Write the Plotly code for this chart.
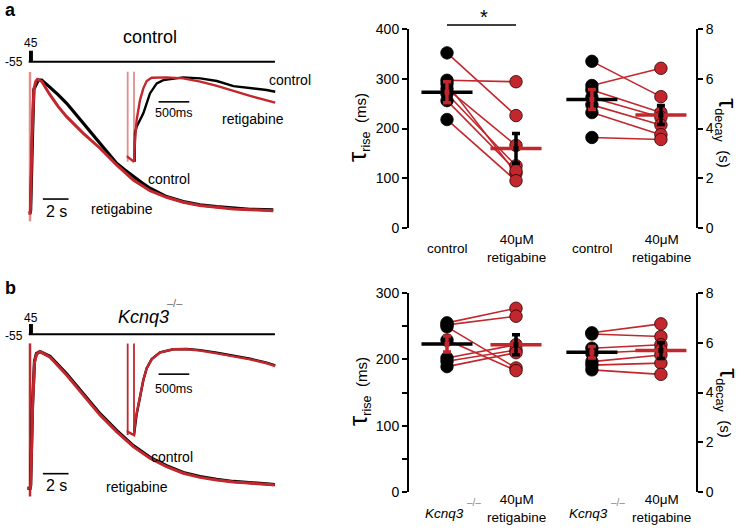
import plotly.graph_objects as go

W, H = 744, 531
RED = "#c1272d"
ART = "#e48c8c"
FONT = "Liberation Sans, Arial, sans-serif"

# ---------------- panel a : current traces (time in s, normalised current) ----------------
a_ctrl_t = [0, 0.05, 0.2, 0.3, 0.45, 0.65, 0.91, 1.04, 1.56, 2.20, 2.85, 3.50, 4.15, 4.80, 5.45, 6.09,
            6.74, 7.39, 8.04, 8.69, 9.34, 9.98, 10.63, 11.93, 13.23, 14.52, 15.82, 17.12, 18.93]
a_ctrl_i = [0, 0.02, 0.6, 0.93, 0.96, 1.0, 1.0, 0.99, 0.945, 0.888, 0.825, 0.75, 0.675, 0.60, 0.525, 0.45,
            0.375, 0.325, 0.275, 0.23, 0.188, 0.155, 0.125, 0.088, 0.063, 0.05, 0.038, 0.03, 0.025]
a_reti_t = [-0.12, 0, 0.03, 0.15, 0.3, 0.45, 0.57, 0.91, 1.56, 2.20, 2.85, 4.15, 5.45, 6.74, 8.04, 9.34,
            10.63, 11.93, 13.23, 15.82, 18.93]
a_reti_i = [0, 0, 0.02, 0.55, 0.93, 0.99, 1.005, 0.99, 0.888, 0.80, 0.725, 0.60, 0.488, 0.363, 0.25, 0.17,
            0.12, 0.083, 0.058, 0.033, 0.02]
# inset (time in s)
ai_ctrl_t = [0.01, 0.016, 0.043, 0.152, 0.26, 0.37, 0.478, 0.641, 0.80, 1.08, 1.35, 1.62, 1.89, 2.16, 2.30]
ai_ctrl_i = [0, 0.34, 0.415, 0.573, 0.81, 0.929, 0.968, 0.988, 1.0, 0.988, 0.957, 0.897, 0.877, 0.85, 0.83]
ai_reti_t = [-0.12, -0.11, 0.0, 0.016, 0.043, 0.098, 0.152, 0.207, 0.288, 0.53, 0.80, 1.08, 1.35, 1.62, 1.89, 2.30]
ai_reti_i = [0.06, 0.06, 0.0, 0.257, 0.494, 0.731, 0.87, 0.957, 0.996, 1.0, 0.988, 0.95, 0.90, 0.84, 0.78, 0.70]

# ---------------- panel b : current traces ----------------
b_t = [-0.2, 0, 0.05, 0.2, 0.35, 0.5, 0.78, 1.56, 2.85, 4.15, 5.45, 6.74, 8.04, 9.34, 10.63, 11.93,
       13.23, 14.52, 15.82, 18.41, 19.06]
b_reti_i = [0, 0, 0.02, 0.6, 0.92, 0.98, 1.0, 0.959, 0.829, 0.683, 0.537, 0.415, 0.305, 0.22, 0.159, 0.11,
            0.08, 0.061, 0.046, 0.029, 0.024]
b_ctrl_i = [0, 0, 0.02, 0.62, 0.93, 0.985, 1.0, 0.966, 0.838, 0.692, 0.546, 0.423, 0.312, 0.226, 0.165, 0.116,
            0.086, 0.066, 0.05, 0.033, 0.028]
bi_t = [-0.12, -0.11, 0, 0.016, 0.043, 0.098, 0.152, 0.207, 0.288, 0.424, 0.641, 0.859, 1.076, 1.348, 1.62, 1.89, 2.16, 2.30]
bi_reti_i = [0.04, 0.04, 0, 0.136, 0.253, 0.447, 0.642, 0.778, 0.883, 0.961, 1.0, 1.0, 0.984, 0.953, 0.922, 0.883, 0.837, 0.805]
bi_ctrl_i = [None, None, 0, 0.12, 0.24, 0.44, 0.64, 0.78, 0.886, 0.965, 1.0, 1.003, 0.99, 0.96, 0.928, 0.89, 0.845, 0.812]

# voltage protocol (s, mV)
prot_t = [-0.1, 0, 0, 0.15, 0.15, 19.06]
prot_v = [-55, -55, 45, 45, -55, -55]

# stimulus artifacts (time s, [low, high])
main_art_t = [0.0]
main_art_lim = [-0.06, 1.06]
ins_art_t = [-0.103, 0.0]
ins_art_lim = [0.0, 1.067]

# scale bars
bar_main_t = [1.0, 3.0]     # 2 s
bar_ins_t = [0.4, 0.9]      # 500 ms

# ---------------- scatter data ----------------
cats_a = ["control", "40μM<br>retigabine", "control", "40μM<br>retigabine"]
pos = [1, 2, 3.1, 4.1]

a_rise_ctrl = [352, 297, 290, 280, 270, 256, 218]
a_rise_reti = [226, 294, 110, 166, 125, 115, 95]
a_rise_mean = [273, 160]
a_rise_sem = [21, 30]
a_decay_ctrl = [6.70, 5.73, 5.55, 5.25, 4.95, 4.64, 3.64]
a_decay_reti = [5.28, 6.42, 4.64, 4.45, 4.14, 3.75, 3.56]
a_decay_mean = [5.17, 4.54]
a_decay_sem = [0.40, 0.38]

b_rise_ctrl = [255, 252, 249, 229, 202, 197, 189]
b_rise_reti = [277, 265, 187, 183, 222, 214, 210]
b_rise_mean = [223, 222]
b_rise_sem = [12, 15]
b_decay_ctrl = [6.40, 6.35, 5.78, 5.58, 5.24, 5.10, 4.91]
b_decay_reti = [6.76, 6.25, 5.92, 5.71, 5.51, 5.18, 4.73]
b_decay_mean = [5.62, 5.69]
b_decay_sem = [0.23, 0.32]

# ---------------- helpers ----------------
def xdom(p0, p1, origin, ppu):
    return dict(domain=[p0 / W, p1 / W], range=[(p0 - origin) / ppu, (p1 - origin) / ppu])

def ydom(q0, q1, origin, ppu):
    return dict(domain=[1 - q1 / H, 1 - q0 / H], range=[(origin - q1) / ppu, (origin - q0) / ppu])

fig = go.Figure()

def line(x, y, ax, color, width, **kw):
    fig.add_trace(go.Scatter(x=x, y=y, xaxis="x" + ax[0], yaxis="y" + ax[1], mode="lines",
                             line=dict(color=color, width=width), hoverinfo="skip", **kw))

def traces_panel(axm, axp, axi, ct, ci, rt, ri, ict, ici, irt, iri, art_col):
    line(prot_t, prot_v, axp, "black", 2)
    for t in main_art_t:
        line([t, t], main_art_lim, axm, art_col, 2.5)
    line(ct, ci, axm, "black", 3.2)
    line(rt, ri, axm, RED, 3.0)
    line(bar_main_t, [0.107, 0.107], axm, "black", 1.6)
    for t in ins_art_t:
        line([t, t], ins_art_lim, axi, art_col, 1.8)
    line(ict, ici, axi, "black", 2.4)
    line(irt, iri, axi, RED, 2.4)
    line(bar_ins_t, [0.71, 0.71], axi, "black", 1.6)

traces_panel(("1", "1"), ("2", "2"), ("3", "3"), a_ctrl_t, a_ctrl_i, a_reti_t, a_reti_i,
             ai_ctrl_t, ai_ctrl_i, ai_reti_t, ai_reti_i, ART)
traces_panel(("4", "4"), ("5", "5"), ("6", "6"), b_t, b_ctrl_i, b_t, b_reti_i,
             bi_t, bi_ctrl_i, bi_t, bi_reti_i, RED)

def dots_panel(xa, ya, ctrl, reti, mean, sem, p0, p1):
    xs, ys = [], []
    for c, r in zip(ctrl, reti):
        xs += [p0, p1, None]
        ys += [c, r, None]
    kw = dict(xaxis=xa, yaxis=ya, hoverinfo="skip", cliponaxis=False)
    fig.add_trace(go.Scatter(x=xs, y=ys, mode="lines", line=dict(color=RED, width=1.6), **kw))
    fig.add_trace(go.Scatter(x=[p0] * len(ctrl), y=ctrl, mode="markers",
                             marker=dict(size=12.5, color="black", line=dict(color="black", width=0.8)), **kw))
    fig.add_trace(go.Scatter(x=[p1] * len(reti), y=reti, mode="markers",
                             marker=dict(size=12.5, color=RED, line=dict(color="#2a0000", width=0.8)), **kw))
    for p, m, col in zip([p0, p1], mean, ["black", RED]):
        fig.add_trace(go.Scatter(x=[p - 0.37, p + 0.37], y=[m, m], mode="lines",
                                 line=dict(color=col, width=3.5), **kw))
    for p, m, s, col in zip([p0, p1], mean, sem, [RED, "black"]):
        fig.add_trace(go.Scatter(x=[p], y=[m], mode="markers", marker=dict(size=5, color=col, symbol="square"),
                                 error_y=dict(type="data", array=[s], color=col, thickness=3.5, width=4), **kw))

dots_panel("x7", "y7", a_rise_ctrl, a_rise_reti, a_rise_mean, a_rise_sem, pos[0], pos[1])
dots_panel("x7", "y8", a_decay_ctrl, a_decay_reti, a_decay_mean, a_decay_sem, pos[2], pos[3])
dots_panel("x9", "y9", b_rise_ctrl, b_rise_reti, b_rise_mean, b_rise_sem, pos[0], pos[1])
dots_panel("x9", "y10", b_decay_ctrl, b_decay_reti, b_decay_mean, b_decay_sem, pos[2], pos[3])

hidden = dict(visible=False, fixedrange=True, automargin=False)
yax = dict(showline=True, linecolor="black", linewidth=2, ticks="outside", ticklen=5, tickwidth=1.8,
           tickcolor="black", showgrid=False, zeroline=False, tickfont=dict(size=14, color="black"),
           fixedrange=True, automargin=False)

layout = dict(
    width=W, height=H, margin=dict(l=0, r=0, t=0, b=0, pad=0, autoexpand=False), showlegend=False,
    autosize=False, template="none",
    paper_bgcolor="white", plot_bgcolor="rgba(0,0,0,0)",
    font=dict(family=FONT, color="black"),
    xaxis=dict(**xdom(15, 290, 30, 12.85), anchor="y", **hidden),
    yaxis=dict(**ydom(40, 235, 213.3, 133.3), anchor="x", **hidden),
    xaxis2=dict(**xdom(15, 290, 30, 12.85), anchor="y2", **hidden),
    yaxis2=dict(**ydom(45, 68, 56.2, 0.1), anchor="x2", **hidden),
    xaxis3=dict(**xdom(115, 290, 134, 61.4), anchor="y3", **hidden),
    yaxis3=dict(**ydom(60, 175, 161.7, 84.3), anchor="x3", **hidden),
    xaxis4=dict(**xdom(15, 290, 30, 12.85), anchor="y4", **hidden),
    yaxis4=dict(**ydom(335, 505, 488.3, 136.7), anchor="x4", **hidden),
    xaxis5=dict(**xdom(15, 290, 30, 12.85), anchor="y5", **hidden),
    yaxis5=dict(**ydom(318, 340, 329.2, 0.093), anchor="x5", **hidden),
    xaxis6=dict(**xdom(115, 290, 134, 61.4), anchor="y6", **hidden),
    yaxis6=dict(**ydom(330, 450, 435, 85.7), anchor="x6", **hidden),
    xaxis7=dict(**xdom(409, 696, 378, 69), anchor="y7", **hidden),
    yaxis7=dict(domain=[1 - 228 / H, 1 - 29 / H], range=[0, 400], dtick=100, anchor="x7", **yax),
    yaxis8=dict(range=[0, 8], dtick=2, overlaying="y7", side="right", anchor="x7", **yax),
    xaxis9=dict(**xdom(409, 696, 378, 69), anchor="y9", **hidden),
    yaxis9=dict(domain=[1 - 492 / H, 1 - 293 / H], range=[0, 300], dtick=100, anchor="x9",
                minor=dict(dtick=50, ticks="outside", ticklen=5, tickwidth=1.8, tickcolor="black"), **yax),
    yaxis10=dict(range=[0, 8], dtick=2, overlaying="y9", side="right", anchor="x9", **yax),
)
fig.update_layout(**layout)

anns = []
def ann(text, px, py, size, xanchor="center", angle=0, color="black", **kw):
    anns.append(dict(text=text, x=px / W, y=1 - py / H, xref="paper", yref="paper", showarrow=False,
                     xanchor=xanchor, yanchor="middle", textangle=angle,
                     font=dict(size=size, color=color, family=FONT), **kw))

ann("<b>a</b>", 10, 10, 18)
ann("<b>b</b>", 10, 288, 18)
ann("control", 150, 37, 18)
ann("45", 31, 43, 12)
ann("-55", 14, 62, 12)
ann("control", 267, 80, 14, xanchor="left")
ann("retigabine", 253, 119, 14)
ann("500ms", 174, 113, 12.5)
ann("control", 169, 179, 14)
ann("retigabine", 122, 209, 14)
ann("2 s", 56, 212, 16)
ann("<i>Kcnq3</i>", 143, 317, 18)
ann("–/–", 175, 303, 11, color="#666666")
ann("45", 31, 318, 12)
ann("-55", 14, 336, 12)
ann("500ms", 174, 389, 12.5)
ann("control", 172, 457, 14)
ann("retigabine", 137, 487, 14)
ann("2 s", 56, 485, 16)

for p, lab in zip([447, 516, 592, 661], cats_a):
    ann(lab, p, 248, 13.5)
for p in [444, 588]:
    ann("<i>Kcnq3</i>", p, 513, 13.5)
    ann("–/–", p + 30, 502, 10, color="#888888")
for p in [516, 661]:
    ann("40μM<br>retigabine", p, 508, 13.5)

ann("*", 484, 17, 20)
fig.add_shape(type="line", xref="x7", yref="paper", x0=pos[0], x1=pos[1], y0=1 - 25 / H, y1=1 - 25 / H,
              line=dict(color="black", width=1.6))

rise_t = "<span style='font-size:26px'>τ</span><span style='font-size:18px'><sub>rise</sub></span>  (ms)"
decay_t = "<span style='font-size:26px'>τ</span><span style='font-size:18px'><sub>decay</sub></span>  (s)"
ann(rise_t, 358, 128, 15, angle=-90)
ann(decay_t, 727, 133, 15, angle=90)
ann(rise_t, 358, 392, 15, angle=-90)
ann(decay_t, 729, 403, 15, angle=90)

fig.update_layout(annotations=anns)
fig.write_html("out.html", config={"displayModeBar": False},
               post_script="document.body.style.margin='0';")
